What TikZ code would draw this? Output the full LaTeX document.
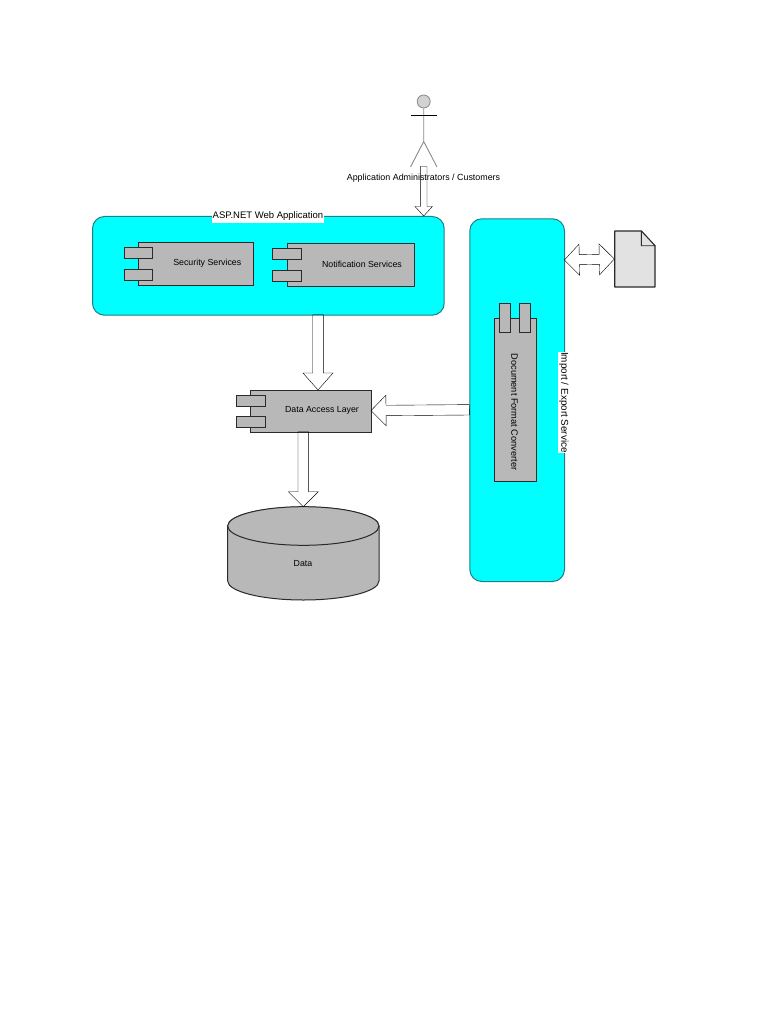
\documentclass[tikz,border=0pt]{standalone}
\usepackage{fontspec}
\setmainfont{Liberation Sans}
\usetikzlibrary{calc}
\definecolor{teal1}{HTML}{1F7F86}
\definecolor{aqua}{HTML}{00FFFF}
\definecolor{boxgray}{HTML}{B8B8B8}
\definecolor{docgray}{HTML}{E2E2E2}
\definecolor{edge}{HTML}{2A2A2A}
\definecolor{arrowline}{HTML}{B8B8B8}
\definecolor{stick}{HTML}{8A8A8A}
\tikzset{
  x=1pt,y=-1pt,
  txt/.style={font=\fontsize{8.8}{11}\selectfont,inner sep=0pt,text=black},
  horiz/.style={yshift=-1.2pt},
  container/.style={draw=teal1,fill=aqua,line width=1pt,rounded corners=12pt,anchor=north west,inner sep=0pt},
  comp/.style={draw=edge,fill=boxgray,line width=1pt,anchor=north west,inner sep=0pt},
  blockarrow/.style n args={3}{draw=arrowline,fill=white,line width=.8pt,line join=miter,
    to path={
      ($(\tikztostart)!#1!90:(\tikztotarget)$)
      -- ($($(\tikztotarget)!#3!(\tikztostart)$)!#1!90:(\tikztotarget)$)
      -- ($($(\tikztotarget)!#3!(\tikztostart)$)!#2!90:(\tikztotarget)$)
      -- (\tikztotarget)
      -- ($($(\tikztotarget)!#3!(\tikztostart)$)!#2!-90:(\tikztotarget)$)
      -- ($($(\tikztotarget)!#3!(\tikztostart)$)!#1!-90:(\tikztotarget)$)
      -- ($(\tikztostart)!#1!-90:(\tikztotarget)$)
      -- cycle}},
  dblarrow/.style n args={3}{draw=arrowline,fill=white,line width=.8pt,
    to path={
      (\tikztostart)
      -- ($($(\tikztostart)!#3!(\tikztotarget)$)!#2!90:(\tikztotarget)$)
      -- ($($(\tikztostart)!#3!(\tikztotarget)$)!#1!90:(\tikztotarget)$)
      -- ($($(\tikztotarget)!#3!(\tikztostart)$)!#1!90:(\tikztotarget)$)
      -- ($($(\tikztotarget)!#3!(\tikztostart)$)!#2!90:(\tikztotarget)$)
      -- (\tikztotarget)
      -- ($($(\tikztotarget)!#3!(\tikztostart)$)!#2!-90:(\tikztotarget)$)
      -- ($($(\tikztotarget)!#3!(\tikztostart)$)!#1!-90:(\tikztotarget)$)
      -- ($($(\tikztostart)!#3!(\tikztotarget)$)!#1!-90:(\tikztotarget)$)
      -- ($($(\tikztostart)!#3!(\tikztotarget)$)!#2!-90:(\tikztotarget)$)
      -- cycle}},
}
\begin{document}
\begin{tikzpicture}
\useasboundingbox[fill=white] (0,0) rectangle (768,1024);

% containers
\node[container,minimum width=351.7pt,minimum height=98.7pt] (web) at (92,216) {};
\node[container,minimum width=94.7pt,minimum height=362.7pt] (svc) at (469.3,218.3) {};
\node[txt,horiz,font=\fontsize{9.5}{11}\selectfont,fill=white,inner xsep=.5pt,inner ysep=2pt] (weblabel) at (268,215) {ASP.NET Web Application};
\node[txt,font=\fontsize{9.9}{11}\selectfont,fill=white,inner xsep=.5pt,inner ysep=1pt,rotate=-90] (svclabel) at (563.8,402.5) {Import / Export Service};

% coordinates for connector ends
\coordinate (actorfoot) at (423.7,166.5);
\coordinate (webtop) at (423.7,216);
\coordinate (webbottom) at (318,314.7);
\coordinate (daltop) at (318,390);
\coordinate (dalbottom) at (303.3,431.7);
\coordinate (datatop) at (303.3,506.7);
\coordinate (svcleft) at (469.3,409.8);
\coordinate (dalright) at (371,410.6);
\coordinate (svcright) at (564.3,260);
\coordinate (docleft) at (614.3,259);

% Security Services
\node[comp,minimum width=115.3pt,minimum height=42.7pt] (sec) at (138,242.3) {};
\node[comp,minimum width=28.6pt,minimum height=11pt] (sect1) at (123.7,247.3) {};
\node[comp,minimum width=28.6pt,minimum height=10.7pt] (sect2) at (123.7,269.3) {};
\node[txt,horiz] (seclabel) at (207.3,262.5) {Security Services};

% Notification Services
\node[comp,minimum width=127.6pt,minimum height=42.7pt] (notif) at (286.7,243.3) {};
\node[comp,minimum width=28.4pt,minimum height=11pt] (notift1) at (272.3,248.3) {};
\node[comp,minimum width=28.4pt,minimum height=10.7pt] (notift2) at (272.3,270.3) {};
\node[txt,horiz] (notiflabel) at (362,263.5) {Notification Services};

% Data Access Layer
\node[comp,minimum width=120.4pt,minimum height=41.4pt] (dal) at (250.3,390.3) {};
\node[comp,minimum width=28.4pt,minimum height=10.7pt] (dalt1) at (236.3,395.3) {};
\node[comp,minimum width=28.4pt,minimum height=10.7pt] (dalt2) at (236.3,416) {};
\node[txt,horiz] (dallabel) at (322,409.3) {Data Access Layer};

% Document Format Converter
\node[comp,minimum width=41.4pt,minimum height=163.3pt] (conv) at (494.3,318) {};
\node[comp,minimum width=10.7pt,minimum height=29pt] (convt1) at (499,303.3) {};
\node[comp,minimum width=10.7pt,minimum height=29pt] (convt2) at (519.3,303.3) {};
\node[txt,rotate=-90,font=\fontsize{9.2}{11}\selectfont] (convlabel) at (514.5,412) {Document Format Converter};

% Data cylinder
\path[draw=edge,fill=boxgray,line width=1pt]
  (227.7,526) -- (227.7,581) arc[start angle=180,end angle=360,x radius=75.65,y radius=-19]
  -- (379,526) arc[start angle=0,end angle=180,x radius=75.65,y radius=-19] -- cycle;
\path[draw=edge,fill=boxgray,line width=1pt]
  (303.35,526) ellipse[x radius=75.65,y radius=19.3];
\node[txt,horiz] (datalabel) at (303,562.5) {Data};

% document
\path[draw=edge,fill=docgray,line width=1.1pt,line join=round]
  (614.7,231) -- (641.3,231) -- (655,245.7) -- (655,287) -- (614.7,287) -- cycle;
\path[draw=edge,fill=docgray,line width=.9pt,line join=round]
  (641.3,231) -- (641.3,245.7) -- (655,245.7) -- cycle;

% actor
\node[draw=stick,fill=gray!35,circle,minimum size=13pt,inner sep=0pt,line width=.8pt] (head) at (423.7,101.5) {};
\coordinate (hip) at (423.7,141.5);
\coordinate (armL) at (410.5,115);
\coordinate (armR) at (437,115);
\coordinate (footL) at (410.5,167);
\coordinate (footR) at (437,167);
\draw[stick,line width=.9pt] (head) -- (hip) -- (footL) (hip) -- (footR);
\draw[black,line width=.9pt] (armL) -- (armR);

% connectors
\draw (actorfoot) to[blockarrow={3.3pt}{8.7pt}{9.5pt}] (webtop);
\draw (webbottom) to[blockarrow={5.3pt}{15pt}{17pt}] (daltop);
\draw (dalbottom) to[blockarrow={5.3pt}{15pt}{15pt}] (datatop);
\draw (svcleft) to[blockarrow={5.2pt}{15.3pt}{15pt}] (dalright);
\draw (svcright) to[dblarrow={5pt}{15.5pt}{15pt}] (docleft);

\node[txt,horiz,font=\fontsize{8.9}{11}\selectfont] (actorlabel) at (423.5,176.5) {Application Administrators / Customers};
\end{tikzpicture}
\end{document}
